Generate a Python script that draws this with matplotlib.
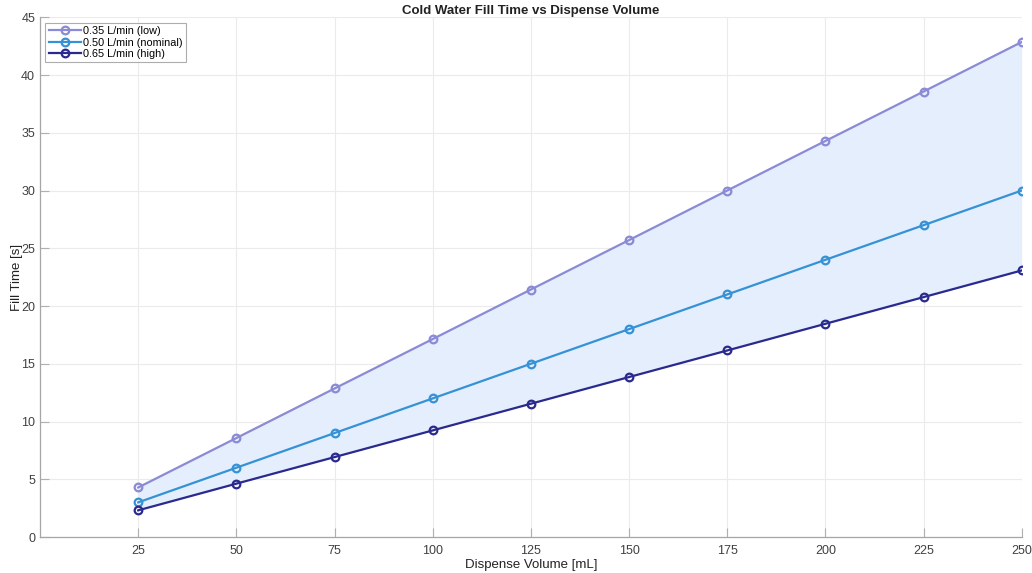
import matplotlib
matplotlib.use('Agg')
import matplotlib.pyplot as plt

plt.rcParams['font.family'] = ['Liberation Sans', 'DejaVu Sans']

volumes = [25, 50, 75, 100, 125, 150, 175, 200, 225, 250]
fill_low = [4.29, 8.57, 12.86, 17.14, 21.43, 25.71, 30.00, 34.29, 38.57, 42.86]
fill_nominal = [3.0, 6.0, 9.0, 12.0, 15.0, 18.0, 21.0, 24.0, 27.0, 30.0]
fill_high = [2.31, 4.62, 6.92, 9.23, 11.54, 13.85, 16.15, 18.46, 20.77, 23.08]

labels = ['0.35 L/min (low)', '0.50 L/min (nominal)', '0.65 L/min (high)']
colors = ['#8a8ad6', '#3592d6', '#2a2a8e']

fig = plt.figure(figsize=(10.32, 5.73), dpi=100)
ax = fig.add_axes([0.0388, 0.0628, 0.9512, 0.907])

# banda entre a vazao baixa e a alta
ax.fill_between(volumes, fill_high, fill_low, color='#e5eefc', linewidth=0, zorder=1)

for serie, nome, cor in zip([fill_low, fill_nominal, fill_high], labels, colors):
  ax.plot(volumes, serie, color=cor, linewidth=1.6, marker='o', markersize=5.5,
          markerfacecolor='none', markeredgewidth=1.6, label=nome, zorder=3)

ax.set_xlim(0, 250)
ax.set_ylim(0, 45)
ax.set_xticks(volumes)
ax.set_yticks(range(0, 46, 5))
ax.tick_params(direction='in', length=6.5, width=0.8, colors='#b0b0b0',
               labelcolor='#404040', labelsize=9)
ax.tick_params(axis='x', pad=6)
ax.tick_params(axis='y', pad=3.5)
ax.grid(True, color='#ebebeb', linewidth=0.8, zorder=0)
ax.set_axisbelow(True)
for lado in ['top', 'right']:
  ax.spines[lado].set_visible(False)
for lado in ['left', 'bottom']:
  ax.spines[lado].set_color('#a6a6a6')
  ax.spines[lado].set_linewidth(0.9)

ax.set_title('Cold Water Fill Time vs Dispense Volume', fontsize=9.5,
             fontweight='bold', color='#222222', pad=2)
ax.set_xlabel('Dispense Volume [mL]', fontsize=9.5, color='#222222', labelpad=1)
ax.set_ylabel('Fill Time [s]', fontsize=9.5, color='#222222')
ax.yaxis.set_label_coords(-0.0175, 0.5)

leg = ax.legend(loc='upper left', fontsize=7.8, frameon=True, fancybox=False,
                edgecolor='#999999', borderpad=0.3, labelspacing=0.15,
                handlelength=3.0, handletextpad=0.2, borderaxespad=0.5)
leg.get_frame().set_linewidth(0.8)

fig.savefig('out.png', dpi=100)
